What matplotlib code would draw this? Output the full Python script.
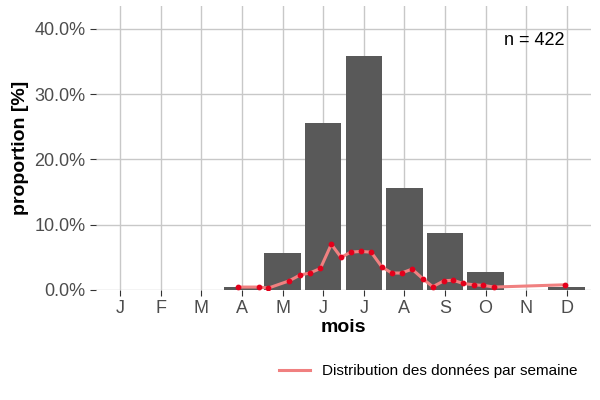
import matplotlib
matplotlib.use("Agg")
import matplotlib.pyplot as plt
from matplotlib.ticker import FuncFormatter

plt.rcParams["font.family"] = ["Liberation Sans", "DejaVu Sans"]

months = ["J", "F", "M", "A", "M", "J", "J", "A", "S", "O", "N", "D"]
month_pct = [0, 0, 0, 0.45, 5.7, 25.6, 35.8, 15.6, 8.7, 2.8, 0, 0.45]

week_pos = [3.91, 4.41, 4.65, 5.16, 5.43, 5.67, 5.93, 6.20, 6.44, 6.68, 6.92, 7.18,
            7.45, 7.69, 7.93, 8.19, 8.46, 8.70, 8.97, 9.20, 9.45, 9.71, 9.95, 10.21, 11.97]
week_pct = [0.45, 0.45, 0.3, 1.4, 2.3, 2.6, 3.3, 7.0, 5.0, 5.8, 5.9, 5.8,
            3.5, 2.6, 2.6, 3.2, 1.7, 0.5, 1.4, 1.5, 1.0, 0.8, 0.7, 0.45, 0.8]

fig, ax = plt.subplots(figsize=(6, 4), dpi=100)
x = list(range(1, 13))
ax.bar(x, month_pct, width=0.9, color="#595959", zorder=2)
ax.plot(week_pos, week_pct, color="#f08080", lw=2.2, zorder=3,
        label="Distribution des données par semaine")
ax.scatter(week_pos, week_pct, color="#e3001b", s=10, zorder=4)

ax.set_xlim(0.4, 12.6)
ax.set_ylim(0, 43.5)
ax.set_xticks(x)
ax.set_xticklabels(months)
ax.set_yticks([0, 10, 20, 30, 40])
ax.yaxis.set_major_formatter(FuncFormatter(lambda v, p: f"{v:.1f}%"))
ax.grid(True, color="#c8c8c8", lw=1, zorder=0)
ax.set_axisbelow(True)
for s in ax.spines.values():
    s.set_visible(False)
ax.tick_params(length=4, color="#333333", labelsize=13, labelcolor="#4d4d4d")
ax.set_xlabel("mois", fontsize=14, fontweight="bold", labelpad=1)
ax.set_ylabel("proportion [%]", fontsize=14, fontweight="bold")
ax.text(11.2, 37.5, "n = 422", fontsize=13, ha="center")
fig.legend(loc="lower right", frameon=False, fontsize=11, bbox_to_anchor=(0.985, 0.02))
fig.subplots_adjust(left=0.16, right=0.985, top=0.985, bottom=0.275)
fig.savefig("out.png")
